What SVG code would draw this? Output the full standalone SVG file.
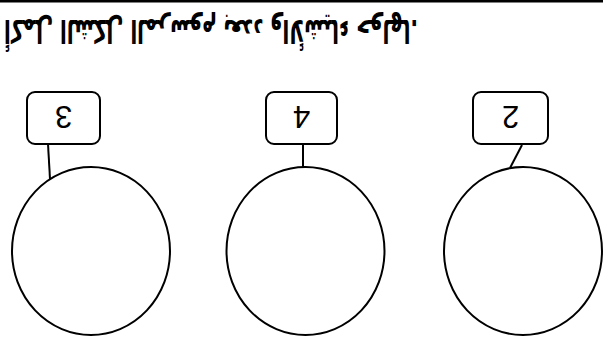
<svg xmlns="http://www.w3.org/2000/svg" width="603" height="339" viewBox="0 0 603 339">
<style>
.shape{fill:none;stroke:#000;stroke-width:2}
.box{fill:#fff;stroke:#000;stroke-width:2}
.num{font-family:"Liberation Sans",Arial,sans-serif;font-size:31px;fill:#000;text-anchor:middle}
.title{font-family:"DejaVu Sans",sans-serif;font-size:32px;font-weight:bold;fill:#000;text-anchor:middle}
</style>
<rect x="0" y="0" width="603" height="2.5" fill="#000"/>
<g id="title">
<text class="title" transform="rotate(180 301.5 169.5)" x="392" y="319" direction="rtl" textLength="414" lengthAdjust="spacingAndGlyphs">أكمل الشكل المرسوم بعدد والأشياء حولها.</text>
</g>
<g id="connectors">
<line class="shape" x1="48" y1="144" x2="50" y2="179"/>
<line class="shape" x1="303" y1="144" x2="303" y2="167"/>
<line class="shape" x1="522" y1="145" x2="510" y2="168"/>
</g>
<g id="node-3">
<rect class="box" x="27" y="92" width="73" height="52" rx="8"/>
<text class="num" transform="rotate(180 63.5 117)" x="63.5" y="128">3</text>
<ellipse class="shape" cx="91" cy="251" rx="79" ry="84"/>
</g>
<g id="node-4">
<rect class="box" x="266" y="92" width="71" height="52" rx="8"/>
<text class="num" transform="rotate(180 301.5 117)" x="301.5" y="128">4</text>
<ellipse class="shape" cx="305.5" cy="251" rx="79" ry="84"/>
</g>
<g id="node-2">
<rect class="box" x="473" y="92" width="75" height="52" rx="8"/>
<text class="num" transform="rotate(180 510.5 117)" x="510.5" y="128">2</text>
<ellipse class="shape" cx="523" cy="251" rx="79" ry="84"/>
</g>
</svg>
